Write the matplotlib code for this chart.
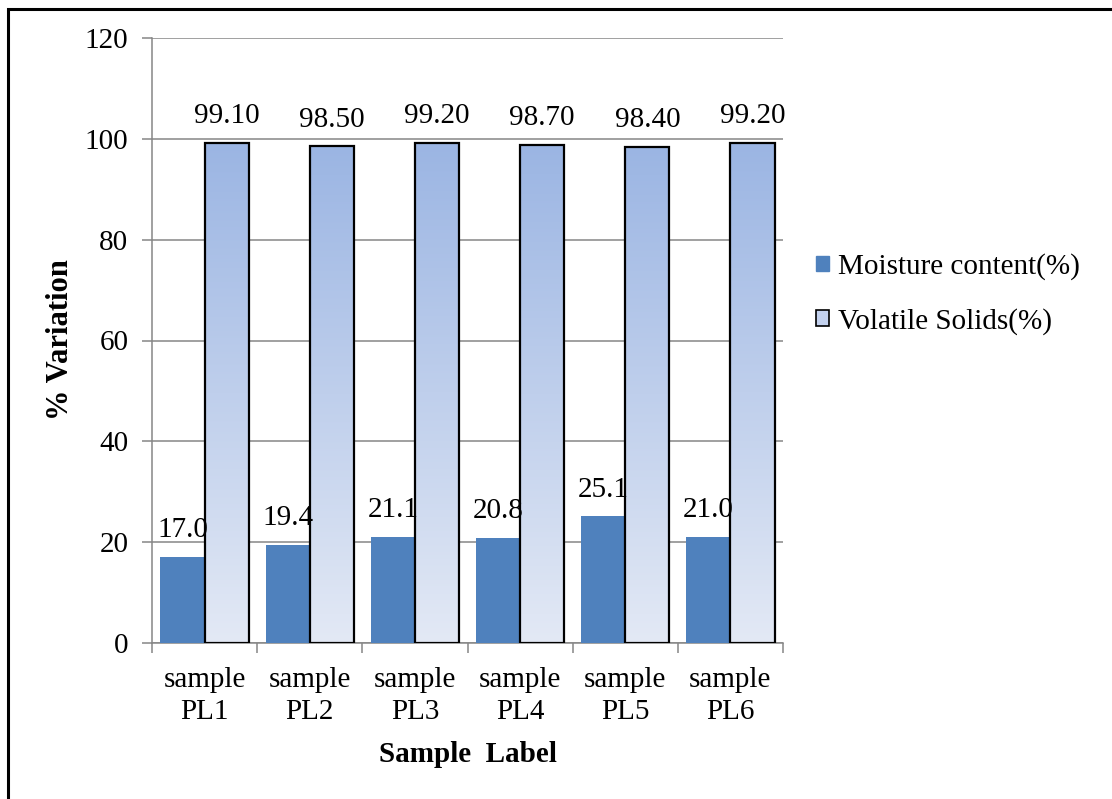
import matplotlib.pyplot as plt
import numpy as np
from matplotlib.patches import Rectangle, Patch

plt.rcParams['font.family'] = ['Liberation Serif', 'DejaVu Serif']

samples = ['sample\nPL1', 'sample\nPL2', 'sample\nPL3', 'sample\nPL4', 'sample\nPL5', 'sample\nPL6']
moisture = [17.0, 19.4, 21.1, 20.8, 25.1, 21.0]
volatile = [99.10, 98.50, 99.20, 98.70, 98.40, 99.20]

C_MOIST = '#4F81BD'
C_GRID = '#868686'
VS_TOP = np.array([0x9B, 0xB5, 0xE3]) / 255
VS_BOT = np.array([0xE3, 0xE9, 0xF5]) / 255
FS = 21

fig = plt.figure(figsize=(11.12, 7.99), dpi=100)
ax = fig.add_axes([152 / 1112, 1 - 643 / 799, (783 - 152) / 1112, (643 - 38) / 799])

x = np.arange(len(samples))
w = 0.42

ax.bar(x - w / 2, moisture, w, color=C_MOIST, zorder=3)

# gradient fill for the volatile solids bars
grad = np.linspace(0, 1, 256)[:, None, None]
img = VS_TOP * (1 - grad) + VS_BOT * grad
for xi, v in zip(x, volatile):
    ax.imshow(img, extent=[xi, xi + w, 0, v], aspect='auto', origin='upper', zorder=3)
ax.bar(x + w / 2, volatile, w, facecolor='none', edgecolor='black', linewidth=1.6, zorder=4)

for xi, v in zip(x, moisture):
    ax.annotate(f'{v:.1f}', (xi - w / 2, v), xytext=(0, 10), textcoords='offset points',
                ha='center', va='bottom', fontsize=FS)
for xi, v in zip(x, volatile):
    ax.annotate(f'{v:.2f}', (xi + w / 2, v), xytext=(0, 10), textcoords='offset points',
                ha='center', va='bottom', fontsize=FS)

ax.set_xlim(-0.5, len(samples) - 0.5)
ax.set_ylim(0, 120)
ax.set_yticks(range(0, 121, 20))
ax.yaxis.grid(True, color=C_GRID, linewidth=1.1, zorder=0)
ax.set_axisbelow(True)

ax.set_xticks(x)
ax.set_xticklabels(samples, linespacing=1.3)
ax.set_xticks(np.arange(-0.5, len(samples)), minor=True)
ax.tick_params(axis='x', which='major', length=0, pad=17, labelsize=FS)
ax.tick_params(axis='x', which='minor', length=7, width=1.1, color=C_GRID)
ax.tick_params(axis='y', length=7, width=1.1, color=C_GRID, pad=10, labelsize=FS)

for side in ['top', 'right']:
    ax.spines[side].set_visible(False)
for side in ['left', 'bottom']:
    ax.spines[side].set_color(C_GRID)
    ax.spines[side].set_linewidth(1.1)

ax.set_xlabel('Sample  Label', fontsize=FS, fontweight='bold', labelpad=12)
fig.text(61 / 1112, 1 - 340 / 799, '% Variation', rotation=90, ha='center', va='center',
         fontsize=22, fontweight='bold')

handles = [Patch(facecolor=C_MOIST, edgecolor=C_MOIST),
           Patch(facecolor='#C3D1EE', edgecolor='black', linewidth=1.2)]
fig.legend(handles, ['Moisture content(%)', 'Volatile Solids(%)'], loc='center left',
           bbox_to_anchor=(790 / 1112, 1 - 294 / 799), frameon=False, fontsize=FS,
           handlelength=0.45, handleheight=0.45, handletextpad=0.3, labelspacing=0.95)

# outer frame around the whole chart
fig.patches.append(Rectangle((7.5 / 1112, -0.05), 1.1, 1 - 8.5 / 799 + 0.05,
                             transform=fig.transFigure, fill=False, edgecolor='black',
                             linewidth=2.2))

fig.savefig('out.png', dpi=100, facecolor='white')
